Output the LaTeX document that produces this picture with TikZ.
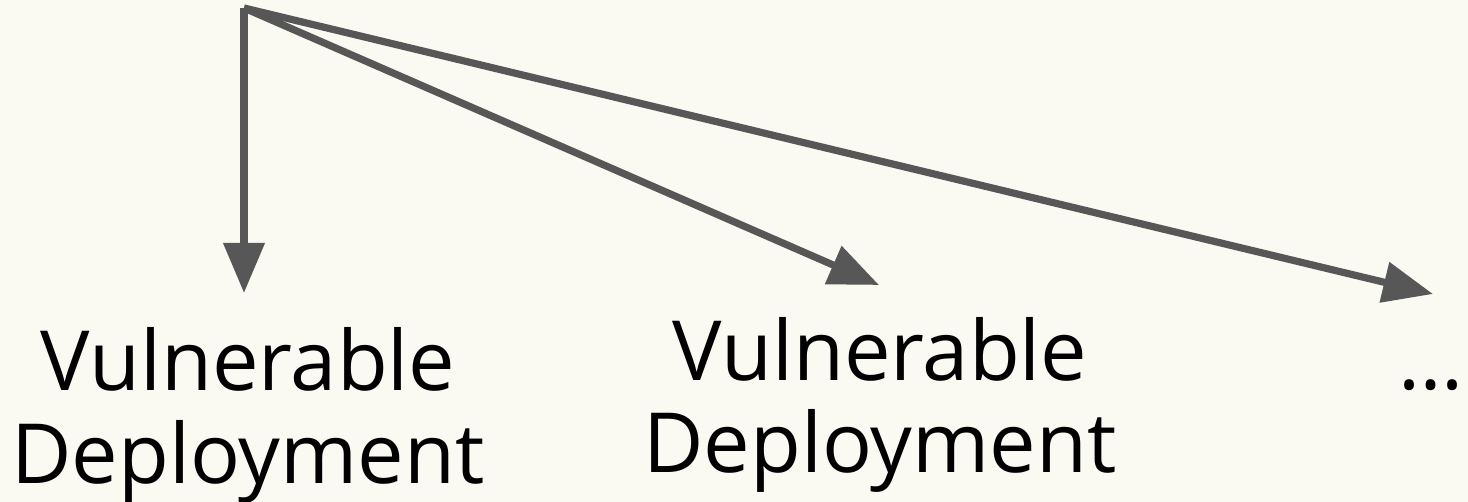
\documentclass[tikz,border=0pt]{standalone}
\usepackage{fontspec}
\setmainfont{Open Sans}
\usetikzlibrary{arrows.meta, positioning}
\definecolor{paper}{HTML}{FAFAF2}
\definecolor{arrowgray}{HTML}{575757}

\begin{document}
\begin{tikzpicture}[
    x=0.5pt, y=-0.5pt,                % <── 1 unit = 1 px of the original
    label_node/.style={align=center, inner sep=0pt, anchor=base,
                       font=\fontsize{41.5}{46.5}\selectfont},
    fan_arrow/.style={-{Triangle[length=25pt, width=20pt]}, line width=3.6pt, draw=arrowgray}
    ]
    % Background
    \fill[paper] (0,0) rectangle (1468,502);
    \useasboundingbox (0,0) rectangle (1468,502);

    % Nodes
    \coordinate (src) at (244,8);
    \coordinate (tip1) at (244,293);
    \coordinate (tip2) at (879,285);
    \coordinate (tip3) at (1433,294);
    \node[label_node] (vuln1) at (248,483) {Vulnerable\\Deployment};
    \node[label_node] (vuln2) at (880,473) {Vulnerable\\Deployment};
    \node[label_node] (more) at (1431,390) {\dots};

    % Arrows
    \draw[fan_arrow] (src) -- (tip1);
    \draw[fan_arrow] (src) -- (tip2);
    \draw[fan_arrow] (src) -- (tip3);
\end{tikzpicture}
\end{document}
